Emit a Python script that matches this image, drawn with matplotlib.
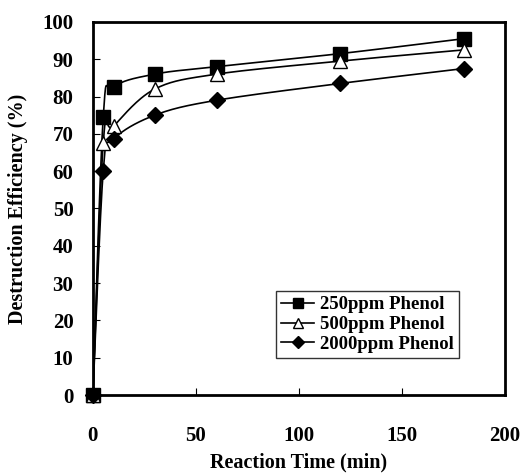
import numpy as np
import matplotlib
matplotlib.use("Agg")
import matplotlib.pyplot as plt

plt.rcParams['font.family'] = ['Liberation Serif', 'DejaVu Serif']
plt.rcParams['font.weight'] = 'bold'

time_min = [0, 5, 10, 30, 60, 120, 180]
phenol_250 = [0, 74.5, 82.5, 86, 88, 91.5, 95.5]
phenol_500 = [0, 67.5, 72, 82, 86, 89.5, 92.5]
phenol_2000 = [0, 60, 68.5, 75, 79, 83.5, 87.5]


def smooth(x, y, n=30):
    # Bezier smoothing similar to Excel's smoothed line option
    x = np.asarray(x, float)
    y = np.asarray(y, float)
    px = np.concatenate([[x[0]], x, [x[-1]]])
    py = np.concatenate([[y[0]], y, [y[-1]]])
    xs, ys = [], []
    t = np.linspace(0, 1, n)
    for i in range(1, len(px) - 2):
        p0, p1, p2, p3 = (np.array([px[j], py[j]]) for j in range(i - 1, i + 3))
        c1 = p1 + (p2 - p0) / 6
        c2 = p2 - (p3 - p1) / 6
        pts = ((1 - t) ** 3)[:, None] * p1 + (3 * (1 - t) ** 2 * t)[:, None] * c1 \
            + (3 * (1 - t) * t ** 2)[:, None] * c2 + (t ** 3)[:, None] * p2
        xs.extend(pts[:, 0])
        ys.extend(pts[:, 1])
    return xs, ys


fig = plt.figure(figsize=(5.25, 4.76), dpi=100)
ax = fig.add_axes([0.177, 0.170, 0.785, 0.784])

series = [
    (phenol_250, 's', 'black', '250ppm Phenol', 9.5),
    (phenol_500, '^', 'white', '500ppm Phenol', 10),
    (phenol_2000, 'D', 'black', '2000ppm Phenol', 8.5),
]
for vals, mk, fc, lab, ms in series:
    sx, sy = smooth(time_min, vals)
    ax.plot(sx, sy, color='black', lw=1.2)
    ax.plot(time_min, vals, linestyle='none', marker=mk, markerfacecolor=fc,
            markeredgecolor='black', markersize=ms, clip_on=False, zorder=3)
    ax.plot([], [], color='black', lw=1.2, marker=mk, markerfacecolor=fc,
            markeredgecolor='black', markersize=ms, label=lab)

ax.set_xlim(0, 200)
ax.set_ylim(0, 100)
ax.set_xticks([0, 50, 100, 150, 200])
ax.set_yticks(range(0, 101, 10))
ax.tick_params(direction='in', length=5, width=0.8, labelsize=15)
ax.tick_params(axis='x', pad=22)
ax.tick_params(axis='y', pad=14)
for s in ax.spines.values():
    s.set_linewidth(2)
ax.set_xlabel('Reaction Time (min)', fontsize=14.5, fontweight='bold', labelpad=5)
ax.set_ylabel('Destruction Efficiency (%)', fontsize=14.5, fontweight='bold', labelpad=10)

ax.legend(loc='lower right', bbox_to_anchor=(0.91, 0.075), fontsize=13.5, frameon=True,
          fancybox=False, edgecolor='black', handlelength=1.8, borderpad=0.25,
          labelspacing=0.15, handletextpad=0.3, markerscale=0.75)

fig.savefig('out.png', dpi=100)
